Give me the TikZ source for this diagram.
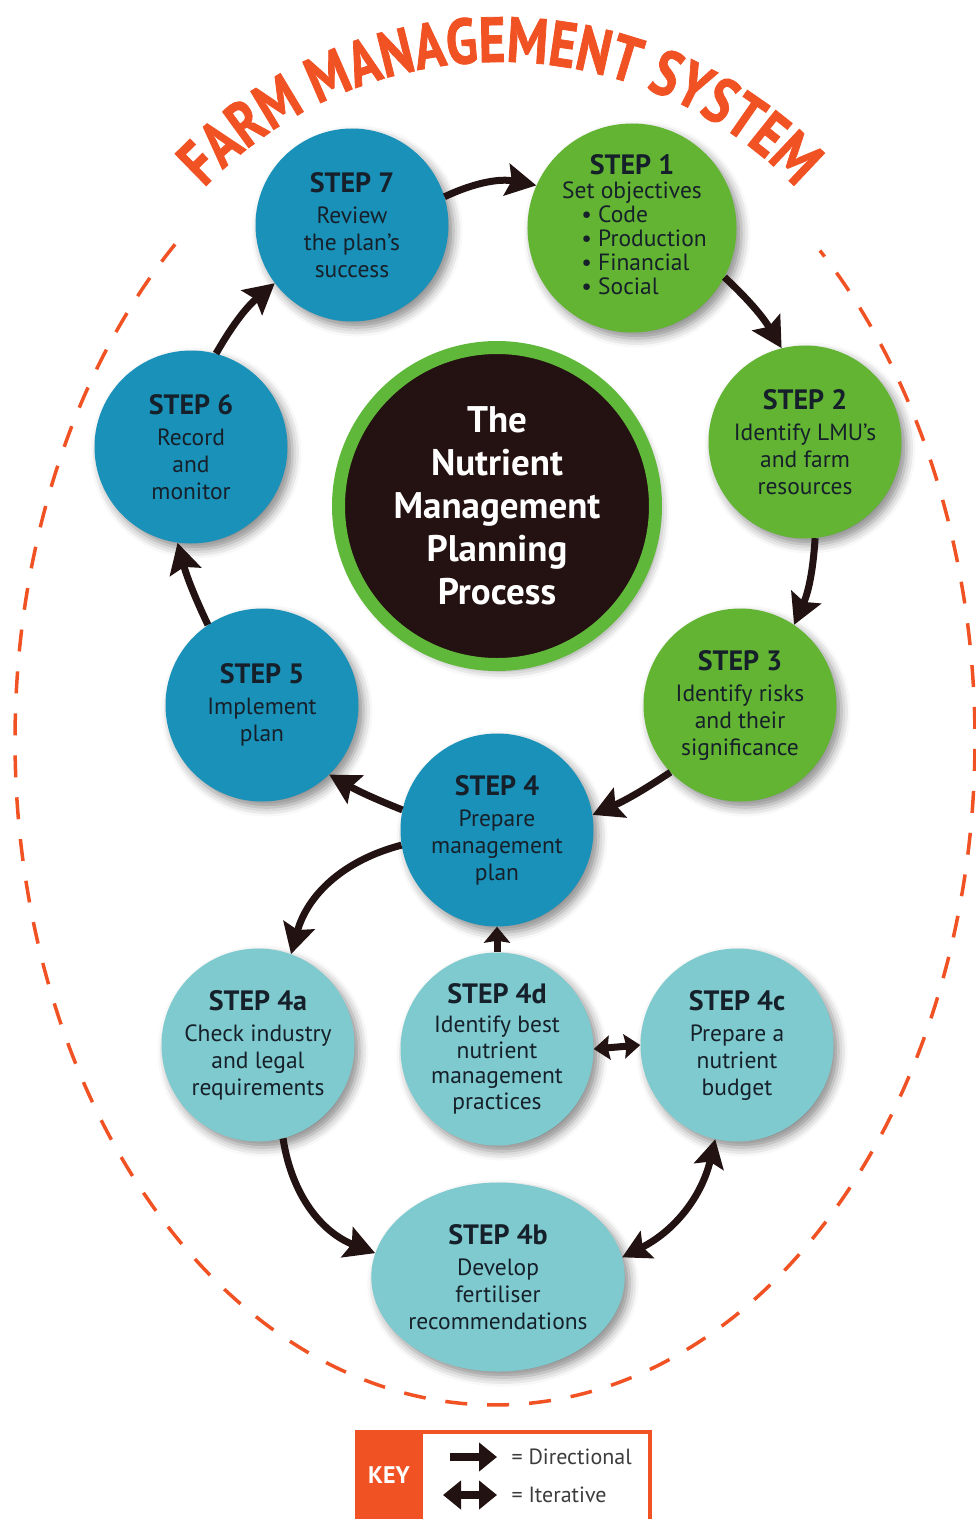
\documentclass[tikz,border=0pt]{standalone}
\usepackage{fontspec}
\setmainfont{PT Sans}
\newfontfamily\titlefam[FakeStretch=0.8,FakeBold=1.2]{PT Sans}
\usetikzlibrary{arrows.meta,shadows.blur,decorations.text,shapes.geometric}
\definecolor{stepblue}{RGB}{26,145,184}
\definecolor{stepgreen}{RGB}{98,180,50}
\definecolor{steptea}{RGB}{126,202,206}
\definecolor{coredark}{RGB}{36,17,17}
\definecolor{coregreen}{RGB}{96,184,58}
\definecolor{farmorange}{RGB}{240,82,36}
\definecolor{arrowdark}{RGB}{35,18,18}
\definecolor{txtdark}{RGB}{22,32,42}
\definecolor{keytext}{RGB}{60,60,60}
\newcommand\stephead{\bfseries\fontsize{28}{30}\selectfont}
\newcommand\stepbody{\fontsize{23.5}{27}\selectfont}
\newcommand\farmtitle{\titlefam\bfseries\fontsize{64}{64}\selectfont}
\tikzset{
  stepbase/.style={circle, minimum size=193pt, inner sep=0pt, align=center,
    text=txtdark, font=\stepbody,
    blur shadow={shadow xshift=5pt, shadow yshift=-6pt, shadow blur radius=9pt, shadow opacity=45}},
  bluestep/.style={stepbase, fill=stepblue},
  greenstep/.style={stepbase, fill=stepgreen},
  teastep/.style={stepbase, fill=steptea},
  flow/.style={draw=arrowdark, line width=7pt, -{Stealth[length=30pt,width=32pt,inset=5pt]}},
  shortflow/.style={draw=arrowdark, line width=7pt, -{Stealth[length=16pt,width=26pt,inset=2pt]}},
  iterflow/.style={draw=arrowdark, line width=7pt, {Stealth[length=28pt,width=30pt,inset=5pt]}-{Stealth[length=28pt,width=30pt,inset=5pt]}},
  shortiter/.style={draw=arrowdark, line width=7pt, {Stealth[length=16pt,width=24pt,inset=2pt]}-{Stealth[length=16pt,width=24pt,inset=2pt]}},
}
\begin{document}
\begin{tikzpicture}[x=1pt,y=-1pt]
\useasboundingbox (0,0) rectangle (976,1519);
% dashed farm boundary
\draw[farmorange, line width=3.5pt, dash pattern=on 22pt off 20pt]
  plot[domain=131.8:407.4, samples=260, smooth] ({495+480*cos(\x)}, {740-665*sin(\x)});
% title along arc
\path[decorate, decoration={text along path, text={|\farmtitle|FARM MANAGEMENT SYSTEM},
  text align=center, text color=farmorange}]
  (500,472) ++(141:410pt) arc[start angle=141, end angle=39, radius=410pt];
% core
\node[circle, fill=coredark, draw=coregreen, line width=13pt, minimum size=317pt, inner sep=0pt,
  align=center, text=white, font=\bfseries\fontsize{37}{43}\selectfont,
  blur shadow={shadow xshift=5pt, shadow yshift=-6pt, shadow blur radius=9pt, shadow opacity=45}]
  (core) at (497,506) {The\\Nutrient\\Management\\Planning\\Process};
% steps
\node[bluestep] (s7) at (352,225) {{\stephead STEP 7}\\[4pt]Review\\the plan’s\\success};
\node[greenstep] (s1) at (632,228) {{\stephead STEP 1}\\[-3pt]Set objectives\\[-3pt]
  \hspace*{24pt}{\fontsize{23.5}{23.5}\selectfont\begin{tabular}[t]{@{}l@{}}• Code\\• Production\\• Financial\\• Social\end{tabular}}};
\node[greenstep] (s2) at (805,442) {{\stephead STEP 2}\\[4pt]Identify LMU’s\\and farm\\resources};
\node[greenstep] (s3) at (740,705) {{\stephead STEP 3}\\[4pt]Identify risks\\and their\\significance};
\node[bluestep] (s4) at (497,830) {{\stephead STEP 4}\\[4pt]Prepare\\management\\plan};
\node[bluestep] (s5) at (262,705) {{\stephead STEP 5}\\[4pt]Implement\\plan};
\node[bluestep] (s6) at (191,447) {{\stephead STEP 6}\\[4pt]Record\\and\\monitor};
\node[teastep] (s4a) at (258,1045) {{\stephead STEP 4a}\\[4pt]Check industry\\and legal\\requirements};
\node[teastep] (s4d) at (497,1049) {{\stephead STEP 4d}\\[2pt]Identify best\\[-1.5pt]nutrient\\[-1.5pt]management\\[-1.5pt]practices};
\node[teastep] (s4c) at (737,1045) {{\stephead STEP 4c}\\[4pt]Prepare a\\nutrient\\budget};
\node[teastep, ellipse, minimum width=236pt, minimum height=189pt] (s4b) at (498,1277)
  {{\stephead STEP 4b}\\[4pt]Develop\\fertiliser\\recommendations};
% cycle arrows
\draw[flow] (s7.17) to[bend left=18] (s1.156);
\draw[flow] (s1.-28) to[bend left=8] (s2.104);
\draw[flow] (s2.-84) to[bend left=10] (s3.56);
\draw[flow] (s3.224) to[bend left=5] (s4.9);
\draw[flow] (s4.168) to[bend left=4] (s5.314);
\draw[flow] (s5.124) to[bend left=5] (s6.262);
\draw[flow] (s6.75) to[bend left=10] (s7.217);
% sub-steps
\draw[flow] (s4.189) to[bend right=30] (s4a.70);
\draw[shortflow] (s4d.north) -- (s4.south);
\draw[shortiter] (s4d.east) -- (s4c.west);
\draw[flow] (s4a.285) to[bend right=30] (s4b.169);
\draw[iterflow] (s4b.9) to[bend right=25] (s4c.257);
% key
\node[fill=farmorange, minimum width=68pt, minimum height=100pt, anchor=north west, inner sep=0pt] (keytag) at (355,1430) {};
\node[draw=farmorange, line width=4pt, minimum width=293pt, minimum height=100pt, anchor=north west, inner sep=0pt] (keybox) at (355,1430) {};
\node[text=white, font=\bfseries\fontsize{24}{24}\selectfont] (keylabel) at (389,1475) {KEY};
\coordinate (kda) at (450,1457);
\coordinate (kdb) at (497,1457);
\coordinate (kia) at (443,1495);
\coordinate (kib) at (497,1495);
\draw[draw=arrowdark, line width=8pt, -{Triangle[length=18pt,width=28pt]}] (kda) -- (kdb);
\draw[draw=arrowdark, line width=8pt, {Triangle[length=18pt,width=28pt]}-{Triangle[length=18pt,width=28pt]}] (kia) -- (kib);
\node[anchor=west, text=keytext, font=\fontsize{22}{22}\selectfont] (keydir) at (508,1457) {= Directional};
\node[anchor=west, text=keytext, font=\fontsize{22}{22}\selectfont] (keyiter) at (508,1495) {= Iterative};
\end{tikzpicture}
\end{document}
